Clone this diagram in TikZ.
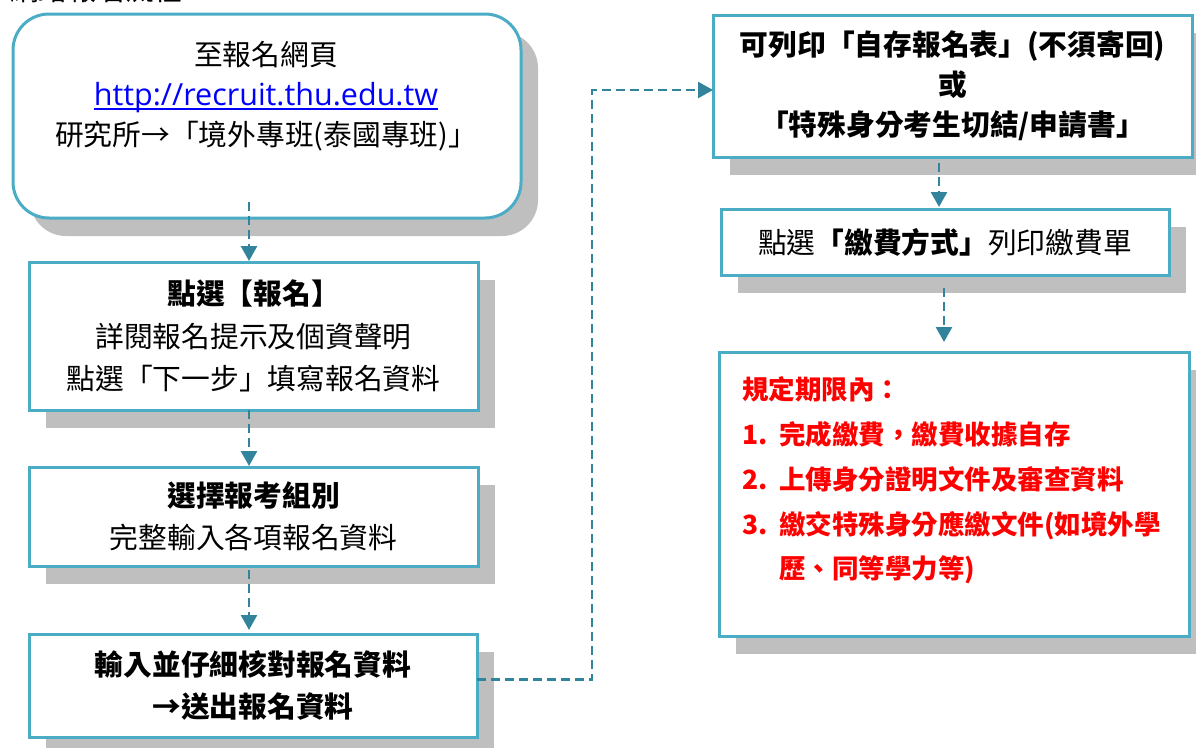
\documentclass[tikz,border=0pt]{standalone}
\usepackage{fontspec}
\setmainfont{Noto Sans CJK TC}
\newfontfamily\urlfont{Open Sans}
\newcommand{\ulurl}[1]{\leavevmode\setbox0=\hbox{#1}\rlap{\rule[-4.5pt]{\wd0}{2.2pt}}\box0}
\usetikzlibrary{arrows.meta,shadows}
\definecolor{boxblue}{HTML}{4BACC6}
\definecolor{arrowteal}{HTML}{31849B}
\definecolor{shadowgray}{HTML}{BFBFBF}
\definecolor{urlblue}{HTML}{0000FF}
\definecolor{alertred}{HTML}{FF0000}
\begin{document}
\begin{tikzpicture}[x=1pt,y=-1pt,
  box/.style={draw=boxblue, line width=3pt, fill=white, inner sep=0pt, outer sep=0pt,
    anchor=north west, align=center,
    font=\fontsize{28.75pt}{42.5pt}\selectfont,
    general shadow={fill=shadowgray, shadow xshift=17pt, shadow yshift=-18pt}},
  txt/.style={inner sep=0pt, font=\fontsize{28.75pt}{40pt}\selectfont},
  flow/.style={draw=arrowteal, line width=2.6pt, dash pattern=on 9pt off 5pt,
    -{Triangle[width=16pt,length=15pt]}},
]
\useasboundingbox (0,0) rectangle (1196,747);

% partially visible heading (cut off at the top)
\node[txt, anchor=base west] (title) at (10,0) {網路報名流程：};

% left column
\node[box, rounded corners=36pt, minimum width=508pt, minimum height=204pt] (b1) at (13,14) {};
\node[txt, align=center, anchor=center] (t1) at (266,96)
  {至報名網頁\\
   {\urlfont\fontsize{30.5pt}{40pt}\selectfont\color{urlblue}\ulurl{http://recruit.thu.edu.tw}}\\
   研究所→「境外專班(泰國專班)」};

\node[box, minimum width=449pt, minimum height=148pt] (b2) at (29,262)
  {\textbf{點選【報名】}\\詳閱報名提示及個資聲明\\點選「下一步」填寫報名資料};

\node[box, minimum width=449pt, minimum height=99pt] (b3) at (29,467)
  {\textbf{選擇報考組別}\\完整輸入各項報名資料};

\node[box, minimum width=448pt, minimum height=103pt] (b4) at (29,634)
  {\textbf{輸入並仔細核對報名資料}\\\textbf{→送出報名資料}};

% right column
\node[box, minimum width=479pt, minimum height=142pt,
      font=\fontsize{28.75pt}{40pt}\selectfont\bfseries] (b5) at (713,15)
  {可列印「自存報名表」(不須寄回)\\或\\「特殊身分考生切結/申請書」};

\node[box, minimum width=448pt, minimum height=66pt] (b6) at (721,209)
  {點選\textbf{「繳費方式」}列印繳費單};

\node[box, minimum width=470pt, minimum height=284pt] (b7) at (719,352) {};
\node[txt, anchor=west, align=left, text=alertred,
      font=\fontsize{26.5pt}{44.75pt}\selectfont\bfseries] (t7) at (742,480.5)
  {規定期限內：\\
   \makebox[37pt][l]{1.}完成繳費，繳費收據自存\\
   \makebox[37pt][l]{2.}上傳身分證明文件及審查資料\\
   \makebox[37pt][l]{3.}繳交特殊身分應繳文件(如境外學\\
   \hspace*{37pt}歷、同等學力等)};

% connectors
\draw[flow, shorten >=1pt] ([xshift=-18pt,yshift=16pt]b1.south) -- ([xshift=-4.5pt]b2.north);
\draw[flow, shorten >=1pt] ([xshift=-4.5pt]b2.south) -- ([xshift=-4.5pt]b3.north);
\draw[flow, shorten >=4pt] ([xshift=-4.5pt,yshift=-4pt]b3.south) -- ([xshift=-4pt]b4.north);
\draw[flow] ([yshift=6pt]b4.east) -- ++(115,0) |- ([yshift=-4pt]b5.west);
\draw[flow, shorten >=2pt] ([xshift=-13.5pt,yshift=-6pt]b5.south) -- ([xshift=-6pt]b6.north);
\draw[flow, shorten >=10pt] ([xshift=-1pt,yshift=-13pt]b6.south) -- ([xshift=-10pt]b7.north);
\end{tikzpicture}
\end{document}
